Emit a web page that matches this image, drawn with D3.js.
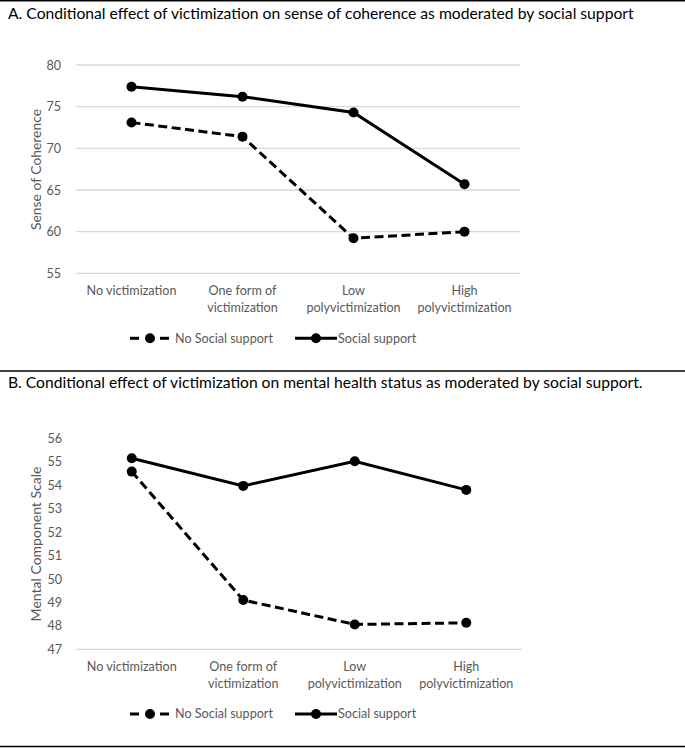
<!DOCTYPE html>
<html>
<head>
<meta charset="utf-8">
<script src="https://cdn.jsdelivr.net/npm/d3@7"></script>
<style>
  html, body { margin: 0; padding: 0; background: #fff; }
  svg { display: block; }
  text { font-family: Lato, "Noto Sans", sans-serif; }
</style>
</head>
<body>
<svg id="chart" width="685" height="748"></svg>
<script>
// ---- Data ----
const categories = ["No victimization", "One form of victimization", "Low polyvictimization", "High polyvictimization"];
const categoryLines = [["No victimization"], ["One form of", "victimization"], ["Low", "polyvictimization"], ["High", "polyvictimization"]];
const seriesNames = ["No Social support", "Social support"];

const cohNoSupport = [73.1, 71.4, 59.2, 60.0];
const cohSupport   = [77.4, 76.2, 74.3, 65.7];
const cohTicks = [55, 60, 65, 70, 75, 80];

const mhNoSupport = [54.58, 49.1, 48.06, 48.13];
const mhSupport   = [55.15, 53.97, 55.02, 53.8];
const mhTicks = [47, 48, 49, 50, 51, 52, 53, 54, 55, 56];

const titleA = "A. Conditional effect of victimization on sense of coherence as moderated by social support";
const titleB = "B. Conditional effect of victimization on mental health status as moderated by social support.";
const yTitleA = "Sense of Coherence";
const yTitleB = "Mental Component Scale";

// ---- Drawing ----
const svg = d3.select("#chart");
const W = 685;
const GRAY = "#595959";

// measure the font size needed for a string to span a target width
function sizeFor(str, target, base) {
  const t = svg.append("text").attr("font-size", base).text(str);
  const w = t.node().getComputedTextLength();
  t.remove();
  return base * target / w;
}
const catFS = sizeFor("No victimization", 90, 14);
const legFS = sizeFor("No Social support", 98, 14);
const tickFS = catFS;

function rule(y) {
  svg.append("line").attr("x1", 0).attr("x2", W).attr("y1", y).attr("y2", y)
    .attr("stroke", "#000").attr("stroke-width", 1.5);
}

function panel(cfg) {
  const g = svg.append("g");
  // title
  g.append("text").attr("x", 8).attr("y", cfg.titleY).attr("dy", "0.35em")
    .attr("font-size", sizeFor(cfg.title, cfg.titleW, 16)).attr("fill", "#000").text(cfg.title);

  const x = d3.scalePoint().domain(categories).range([cfg.x0, cfg.x1]).padding(0.5);
  const y = d3.scaleLinear().domain(cfg.domain).range([cfg.yBottom, cfg.yTop]);

  // gridlines
  const grid = cfg.grid ? cfg.ticks : [cfg.domain[0]];
  g.selectAll("line.grid").data(grid).join("line")
    .attr("x1", cfg.x0).attr("x2", cfg.x1)
    .attr("y1", d => y(d)).attr("y2", d => y(d))
    .attr("stroke", "#d9d9d9").attr("stroke-width", 1.3);

  // y axis tick labels
  const ax = g.append("g").attr("transform", `translate(${cfg.tickX},0)`)
    .call(d3.axisLeft(y).tickValues(cfg.ticks).tickSize(0).tickPadding(0).tickFormat(d3.format("d")));
  ax.select(".domain").remove();
  ax.selectAll("text").attr("font-size", tickFS).attr("fill", GRAY)
    .attr("font-family", 'Lato, "Noto Sans", sans-serif');

  // y title
  g.append("text").attr("transform", `translate(${cfg.yTitleX},${cfg.yTitleY}) rotate(-90)`)
    .attr("text-anchor", "middle").attr("dy", "0.35em")
    .attr("font-size", sizeFor(cfg.yTitle, cfg.yTitleW, 14)).attr("fill", GRAY)
    .text(cfg.yTitle);

  // category labels
  categories.forEach((c, i) => {
    const tx = g.append("text").attr("x", x(c)).attr("y", cfg.catY)
      .attr("text-anchor", "middle").attr("font-size", catFS).attr("fill", GRAY);
    categoryLines[i].forEach((ln, j) => {
      tx.append("tspan").attr("x", x(c)).attr("dy", j === 0 ? "0.35em" : "17px").text(ln);
    });
  });

  // series
  const line = d3.line().x((d, i) => x(categories[i])).y(d => y(d));
  const series = [
    { name: seriesNames[0], vals: cfg.noSupport, dash: "9,4.5" },
    { name: seriesNames[1], vals: cfg.support, dash: null }
  ];
  series.forEach(s => {
    g.append("path").datum(s.vals).attr("d", line).attr("fill", "none")
      .attr("stroke", "#000").attr("stroke-width", 3)
      .attr("stroke-dasharray", s.dash);
    g.selectAll(null).data(s.vals).join("circle")
      .attr("cx", (d, i) => x(categories[i])).attr("cy", d => y(d)).attr("r", 5).attr("fill", "#000");
  });

  // legend
  const lg = g.append("g").attr("transform", `translate(0,${cfg.legendY})`);
  // dashed entry: dash, marker, dash
  [[130, 139], [160, 169]].forEach(([a, b]) => {
    lg.append("line").attr("x1", a).attr("x2", b).attr("y1", 0).attr("y2", 0)
      .attr("stroke", "#000").attr("stroke-width", 3);
  });
  lg.append("circle").attr("cx", 150).attr("cy", 0).attr("r", 5).attr("fill", "#000");
  lg.append("text").attr("x", 175).attr("y", 0).attr("dy", "0.35em").attr("font-size", legFS)
    .attr("fill", GRAY).text(seriesNames[0]);
  // solid entry
  lg.append("line").attr("x1", 295).attr("x2", 337).attr("y1", 0).attr("y2", 0)
    .attr("stroke", "#000").attr("stroke-width", 3);
  lg.append("circle").attr("cx", 316).attr("cy", 0).attr("r", 5).attr("fill", "#000");
  lg.append("text").attr("x", 338).attr("y", 0).attr("dy", "0.35em").attr("font-size", legFS)
    .attr("fill", GRAY).text(seriesNames[1]);
}

rule(0.75);
panel({
  title: titleA, titleY: 14, titleW: 626,
  x0: 76, x1: 520, domain: [55, 80], yBottom: 273.3, yTop: 65,
  ticks: cohTicks, grid: true, tickX: 61,
  yTitle: yTitleA, yTitleX: 36, yTitleY: 169.5, yTitleW: 121,
  catY: 291, legendY: 338.3,
  noSupport: cohNoSupport, support: cohSupport
});
rule(371);
panel({
  title: titleB, titleY: 383, titleW: 635,
  x0: 76, x1: 522, domain: [47, 56], yBottom: 649.3, yTop: 438.3,
  ticks: mhTicks, grid: false, tickX: 62,
  yTitle: yTitleB, yTitleX: 36, yTitleY: 544, yTitleW: 155,
  catY: 667, legendY: 714,
  noSupport: mhNoSupport, support: mhSupport
});
rule(746.5);
</script>
</body>
</html>
